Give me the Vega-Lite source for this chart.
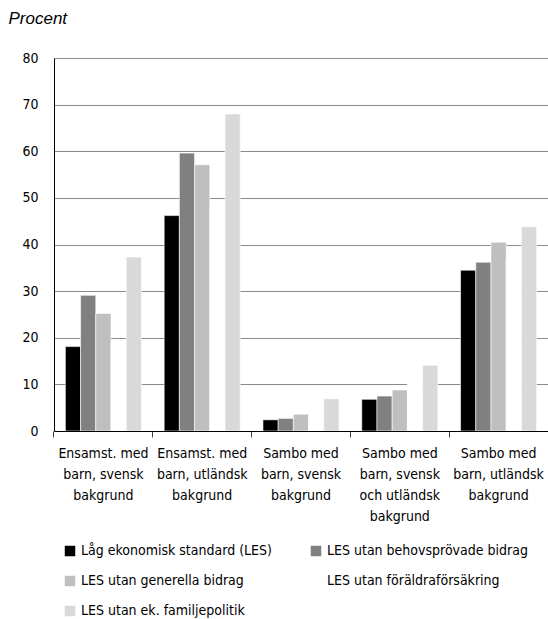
{
  "$schema": "https://vega.github.io/schema/vega-lite/v6.json",
  "width": 494,
  "height": 373,
  "autosize": {"type": "none"},
  "padding": {"left": 54, "top": 58, "right": 0, "bottom": 188},
  "background": "white",
  "config": {
    "view": {"stroke": null},
    "font": "DejaVu Sans Condensed, Roboto, sans-serif"
  },
  "data": {
    "values": [
      {"grupp": "Ensamst. med barn, svensk bakgrund", "serie": "Låg ekonomisk standard (LES)", "procent": 18.1},
      {"grupp": "Ensamst. med barn, svensk bakgrund", "serie": "LES utan behovsprövade bidrag", "procent": 29.1},
      {"grupp": "Ensamst. med barn, svensk bakgrund", "serie": "LES utan generella bidrag", "procent": 25.2},
      {"grupp": "Ensamst. med barn, svensk bakgrund", "serie": "LES utan föräldraförsäkring", "procent": 19.0},
      {"grupp": "Ensamst. med barn, svensk bakgrund", "serie": "LES utan ek. familjepolitik", "procent": 37.3},
      {"grupp": "Ensamst. med barn, utländsk bakgrund", "serie": "Låg ekonomisk standard (LES)", "procent": 46.2},
      {"grupp": "Ensamst. med barn, utländsk bakgrund", "serie": "LES utan behovsprövade bidrag", "procent": 59.6},
      {"grupp": "Ensamst. med barn, utländsk bakgrund", "serie": "LES utan generella bidrag", "procent": 57.1},
      {"grupp": "Ensamst. med barn, utländsk bakgrund", "serie": "LES utan föräldraförsäkring", "procent": 48.0},
      {"grupp": "Ensamst. med barn, utländsk bakgrund", "serie": "LES utan ek. familjepolitik", "procent": 68.0},
      {"grupp": "Sambo med barn, svensk bakgrund", "serie": "Låg ekonomisk standard (LES)", "procent": 2.4},
      {"grupp": "Sambo med barn, svensk bakgrund", "serie": "LES utan behovsprövade bidrag", "procent": 2.7},
      {"grupp": "Sambo med barn, svensk bakgrund", "serie": "LES utan generella bidrag", "procent": 3.6},
      {"grupp": "Sambo med barn, svensk bakgrund", "serie": "LES utan föräldraförsäkring", "procent": 3.0},
      {"grupp": "Sambo med barn, svensk bakgrund", "serie": "LES utan ek. familjepolitik", "procent": 6.9},
      {"grupp": "Sambo med barn, svensk och utländsk bakgrund", "serie": "Låg ekonomisk standard (LES)", "procent": 6.8},
      {"grupp": "Sambo med barn, svensk och utländsk bakgrund", "serie": "LES utan behovsprövade bidrag", "procent": 7.5},
      {"grupp": "Sambo med barn, svensk och utländsk bakgrund", "serie": "LES utan generella bidrag", "procent": 8.8},
      {"grupp": "Sambo med barn, svensk och utländsk bakgrund", "serie": "LES utan föräldraförsäkring", "procent": 10.4},
      {"grupp": "Sambo med barn, svensk och utländsk bakgrund", "serie": "LES utan ek. familjepolitik", "procent": 14.1},
      {"grupp": "Sambo med barn, utländsk bakgrund", "serie": "Låg ekonomisk standard (LES)", "procent": 34.5},
      {"grupp": "Sambo med barn, utländsk bakgrund", "serie": "LES utan behovsprövade bidrag", "procent": 36.2},
      {"grupp": "Sambo med barn, utländsk bakgrund", "serie": "LES utan generella bidrag", "procent": 40.5},
      {"grupp": "Sambo med barn, utländsk bakgrund", "serie": "LES utan föräldraförsäkring", "procent": 37.0},
      {"grupp": "Sambo med barn, utländsk bakgrund", "serie": "LES utan ek. familjepolitik", "procent": 43.8}
    ]
  },
  "mark": {"type": "bar", "stroke": "white", "strokeWidth": 0.6},
  "encoding": {
    "x": {
      "field": "grupp",
      "type": "nominal",
      "sort": null,
      "scale": {"paddingInner": 0.23, "paddingOuter": 0.115},
      "axis": {
        "title": null,
        "labelAngle": 0,
        "bandPosition": -0.15,
        "labelOffset": 0,
        "domainColor": "black",
        "domainWidth": 1,
        "tickColor": "#444",
        "tickSize": 6,
        "labelPadding": 9,
        "labelFont": "DejaVu Sans Condensed, Roboto, sans-serif",
        "labelFontSize": 14,
        "labelColor": "black",
        "labelLineHeight": 21,
        "labelBaseline": "top",
        "labelLimit": 0,
        "zindex": 1,
        "labelExpr": "datum.label == 'Ensamst. med barn, svensk bakgrund' ? ['Ensamst. med','barn, svensk','bakgrund'] : datum.label == 'Ensamst. med barn, utländsk bakgrund' ? ['Ensamst. med','barn, utländsk','bakgrund'] : datum.label == 'Sambo med barn, svensk bakgrund' ? ['Sambo med','barn, svensk','bakgrund'] : datum.label == 'Sambo med barn, svensk och utländsk bakgrund' ? ['Sambo med','barn, svensk','och utländsk','bakgrund'] : ['Sambo med','barn, utländsk','bakgrund']"
      }
    },
    "xOffset": {
      "field": "serie",
      "type": "nominal",
      "sort": ["Låg ekonomisk standard (LES)", "LES utan behovsprövade bidrag", "LES utan generella bidrag", "LES utan föräldraförsäkring", "LES utan ek. familjepolitik"],
      "scale": {"paddingInner": 0, "paddingOuter": 0}
    },
    "y": {
      "field": "procent",
      "type": "quantitative",
      "scale": {"domain": [0, 80], "nice": false},
      "axis": {
        "values": [0, 10, 20, 30, 40, 50, 60, 70, 80],
        "ticks": false,
        "labelPadding": 16,
        "labelFont": "DejaVu Sans Condensed, Roboto, sans-serif",
        "labelFontSize": 14,
        "labelColor": "black",
        "domainColor": "black",
        "domainWidth": 1,
        "gridColor": "#8a8a8a",
        "gridWidth": 1.2,
        "title": "Procent",
        "titleAngle": 0,
        "titleAlign": "left",
        "titleBaseline": "alphabetic",
        "titleX": -46,
        "titleY": -35,
        "titleFont": "Liberation Sans, Arial, sans-serif",
        "titleFontStyle": "italic",
        "titleFontWeight": "normal",
        "titleFontSize": 17,
        "titleColor": "black"
      }
    },
    "color": {
      "field": "serie",
      "type": "nominal",
      "sort": ["Låg ekonomisk standard (LES)", "LES utan behovsprövade bidrag", "LES utan generella bidrag", "LES utan föräldraförsäkring", "LES utan ek. familjepolitik"],
      "scale": {
        "domain": ["Låg ekonomisk standard (LES)", "LES utan behovsprövade bidrag", "LES utan generella bidrag", "LES utan föräldraförsäkring", "LES utan ek. familjepolitik"],
        "range": ["#000000", "#808080", "#bfbfbf", "#ffffff", "#d9d9d9"]
      },
      "legend": {
        "title": null,
        "orient": "none",
        "direction": "horizontal",
        "legendX": 9,
        "legendY": 486,
        "columns": 2,
        "columnPadding": 37,
        "rowPadding": 16,
        "symbolType": "square",
        "symbolSize": 110,
        "symbolStrokeWidth": 0,
        "labelOffset": 4,
        "labelFont": "DejaVu Sans Condensed, Roboto, sans-serif",
        "labelFontSize": 14,
        "labelColor": "black",
        "labelLimit": 0
      }
    }
  }
}
